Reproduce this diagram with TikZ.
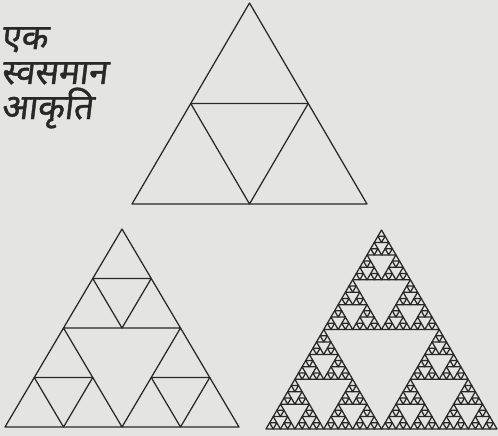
\documentclass[tikz,border=0pt]{standalone}
\usepackage{fontspec}
\newfontfamily\devfont[Script=Devanagari,FakeSlant=0.12,FakeBold=1.2]{Noto Sans}
\definecolor{paper}{RGB}{228,228,226}
\definecolor{ink}{RGB}{40,40,40}
\tikzset{tri/.style={draw=ink,line width=1.25pt,line join=round},
  txt/.style={font=\devfont\fontsize{35}{38}\selectfont,text=ink,inner sep=0pt,anchor=base west}}
\newcommand\sierpT[4]{%
 \begingroup
 \ifnum#1=0
   \pgfmathsetmacro\sxa{#2+#4}\pgfmathsetmacro\sxm{#2+#4/2}\pgfmathsetmacro\sya{#3+#4}%
   \pgfmathsetmacro\sxq{#2+#4/4}\pgfmathsetmacro\sxr{#2+3*#4/4}\pgfmathsetmacro\syh{#3+#4/2}%
   \draw[tri] (#2,#3) -- (\sxa,#3) -- (\sxm,\sya) -- cycle;
   \draw[tri] (\sxm,#3) -- (\sxr,\syh) -- (\sxq,\syh) -- cycle;
 \else
   \pgfmathsetmacro\sh{#4/2}\pgfmathsetmacro\sxb{#2+#4/2}%
   \pgfmathsetmacro\sxc{#2+#4/4}\pgfmathsetmacro\syc{#3+#4/2}%
   \edef\snext{%
     \noexpand\sierpT{\the\numexpr#1-1\relax}{#2}{#3}{\sh}%
     \noexpand\sierpT{\the\numexpr#1-1\relax}{\sxb}{#3}{\sh}%
     \noexpand\sierpT{\the\numexpr#1-1\relax}{\sxc}{\syc}{\sh}}%
   \snext
 \fi
 \endgroup}
\begin{document}
\begin{tikzpicture}[x=1pt,y=-1pt]
\fill[paper] (0,0) rectangle (498,436);
\useasboundingbox (0,0) rectangle (498,436);
\node[txt] (t1) at (1,49) {एक};
\node[txt] (t2) at (1,84) {स्वसमान};
\node[txt] (t3) at (1,119) {आकृति};
\begin{scope}[shift={(132,204)},x={(235pt,0pt)},y={(0pt,201pt)}]
  \sierpT{0}{0}{0}{1}
\end{scope}
\begin{scope}[shift={(5,427)},x={(234pt,0pt)},y={(0pt,198pt)}]
  \sierpT{1}{0}{0}{1}
\end{scope}
\begin{scope}[shift={(266,429)},x={(231pt,0pt)},y={(0pt,199pt)}]
  \sierpT{4}{0}{0}{1}
\end{scope}
\end{tikzpicture}
\end{document}
